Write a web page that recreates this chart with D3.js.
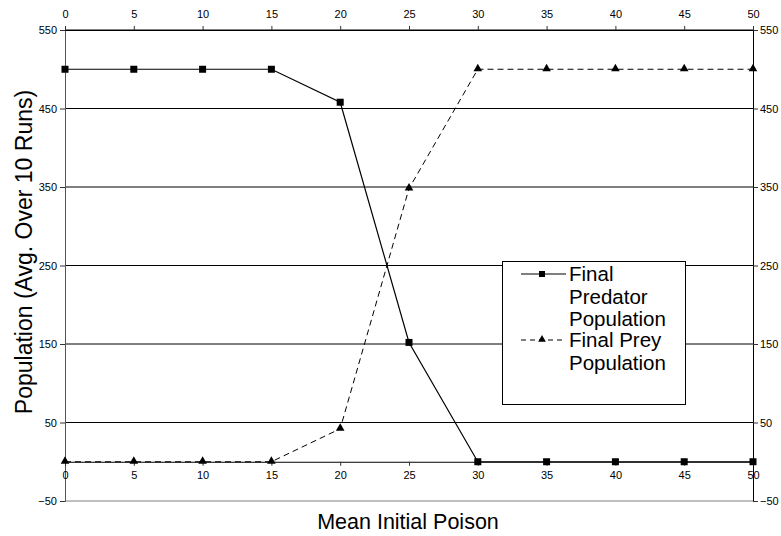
<!DOCTYPE html>
<html>
<head>
<meta charset="utf-8">
<script src="https://cdn.jsdelivr.net/npm/d3@7"></script>
<style>
  body { margin: 0; background: #fff; }
  text { font-family: "Liberation Sans", Arial, sans-serif; }
</style>
</head>
<body>
<div id="chart"></div>
<script>
// chart data
var poison = [0, 5, 10, 15, 20, 25, 30, 35, 40, 45, 50];
var predator = [500, 500, 500, 500, 458, 152, 0, 0, 0, 0, 0];
var prey = [0, 0, 0, 0, 42, 348, 500, 500, 500, 500, 500];
var yTicks = [-50, 50, 150, 250, 350, 450, 550];
var seriesNames = [["Final", "Predator", "Population"], ["Final Prey", "Population"]];

var width = 781, height = 536;
var svg = d3.select("#chart").append("svg")
    .attr("width", width)
    .attr("height", height);

var x = d3.scaleLinear().domain([0, 50]).range([65, 753]);
var y = d3.scaleLinear().domain([-50, 550]).range([501, 30]);

// gridlines
svg.append("g").selectAll("line")
    .data(yTicks)
    .enter().append("line")
    .attr("x1", x(0)).attr("x2", x(50))
    .attr("y1", d => y(d)).attr("y2", d => y(d))
    .attr("stroke", d => d == -50 ? "#808080" : "#000")
    .attr("stroke-width", 1);

// y axes left and right
var yLeft = svg.append("g")
    .attr("transform", "translate(" + x(0) + ",0)")
    .call(d3.axisLeft(y).tickValues(yTicks).tickSize(5).tickPadding(3));
var yRight = svg.append("g")
    .attr("transform", "translate(" + x(50) + ",0)")
    .call(d3.axisRight(y).tickValues(yTicks).tickSize(5).tickPadding(2));

// x axes: top edge and along zero
var xTop = svg.append("g")
    .attr("transform", "translate(0," + y(550) + ")")
    .call(d3.axisTop(x).tickValues(poison).tickSize(4).tickPadding(8));
var xZero = svg.append("g")
    .attr("transform", "translate(0," + y(0) + ")")
    .call(d3.axisBottom(x).tickValues(poison).tickSize(4).tickPadding(5));

[yLeft, yRight, xTop, xZero].forEach(function (a) {
    a.select(".domain").attr("stroke", "#555");
    a.selectAll(".tick line").attr("stroke", "#333");
    a.selectAll("text")
        .attr("font-size", 11)
        .attr("fill", "#000")
        .style("font-family", "'Liberation Sans Narrow', 'Liberation Sans', Arial, sans-serif");
});
yRight.select(".domain").attr("stroke", "#000");
xTop.select(".domain").attr("stroke", "#000");
xZero.select(".domain").attr("stroke", "#000");

var line = d3.line()
    .x((d, i) => x(poison[i]))
    .y(d => y(d));

// predator series
svg.append("path")
    .datum(predator)
    .attr("d", line)
    .attr("fill", "none")
    .attr("stroke", "#000")
    .attr("stroke-width", 1.2);
svg.append("g").selectAll("rect")
    .data(predator)
    .enter().append("rect")
    .attr("x", (d, i) => x(poison[i]) - 3.5)
    .attr("y", d => y(d) - 3.5)
    .attr("width", 7).attr("height", 7)
    .attr("fill", "#000");

// prey series
var tri = d3.symbol().type(d3.symbolTriangle).size(32);
svg.append("path")
    .datum(prey)
    .attr("d", line)
    .attr("fill", "none")
    .attr("stroke", "#000")
    .attr("stroke-width", 1)
    .attr("stroke-dasharray", "6,4");
svg.append("g").selectAll("path")
    .data(prey)
    .enter().append("path")
    .attr("d", tri)
    .attr("transform", (d, i) => "translate(" + x(poison[i]) + "," + (y(d) - 0.5) + ")")
    .attr("fill", "#000");

// legend
var legend = svg.append("g");
legend.append("rect")
    .attr("x", 502.5).attr("y", 261.5)
    .attr("width", 183).attr("height", 143)
    .attr("fill", "#fff")
    .attr("stroke", "#000");

var entryY = [274, 340];
seriesNames.forEach(function (names, k) {
    legend.append("line")
        .attr("x1", 521).attr("x2", 566)
        .attr("y1", entryY[k]).attr("y2", entryY[k])
        .attr("stroke", "#000")
        .attr("stroke-dasharray", k == 0 ? null : "5,4");
    if (k == 0) {
        legend.append("rect")
            .attr("x", 539).attr("y", entryY[k] - 3)
            .attr("width", 6).attr("height", 6)
            .attr("fill", "#000");
    } else {
        legend.append("path")
            .attr("d", d3.symbol().type(d3.symbolTriangle).size(26))
            .attr("transform", "translate(542," + (entryY[k] - 0.5) + ")")
            .attr("fill", "#000");
    }
    names.forEach(function (t, j) {
        legend.append("text")
            .attr("x", 569)
            .attr("y", entryY[k] + 7 + j * 22.5)
            .attr("font-size", 20.5)
            .text(t);
    });
});

// axis titles
svg.append("text")
    .attr("x", 408).attr("y", 529)
    .attr("text-anchor", "middle")
    .attr("font-size", 21.5)
    .text("Mean Initial Poison");
svg.append("text")
    .attr("transform", "translate(32,252) rotate(-90)")
    .attr("text-anchor", "middle")
    .attr("font-size", 23)
    .text("Population (Avg. Over 10 Runs)");
</script>
</body>
</html>
